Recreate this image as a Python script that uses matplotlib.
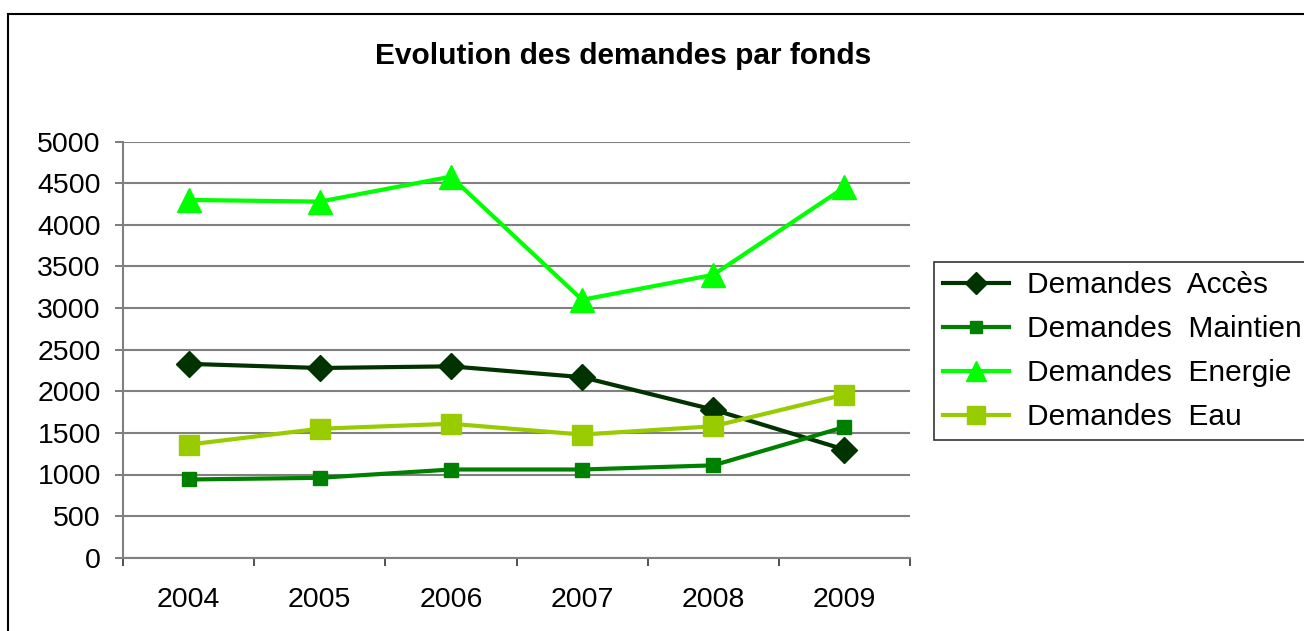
import matplotlib
matplotlib.use("Agg")
import matplotlib.pyplot as plt
from matplotlib.patches import Rectangle

plt.rcParams['font.family'] = ['Liberation Sans', 'DejaVu Sans']

years = ["2004", "2005", "2006", "2007", "2008", "2009"]
acces = [2330, 2280, 2300, 2170, 1780, 1300]
maintien = [940, 960, 1060, 1060, 1110, 1570]
energie = [4300, 4280, 4580, 3100, 3400, 4450]
eau = [1360, 1550, 1610, 1480, 1580, 1960]
series_names = ["Demandes  Accès", "Demandes  Maintien", "Demandes  Energie", "Demandes  Eau"]
y_ticks = [0, 500, 1000, 1500, 2000, 2500, 3000, 3500, 4000, 4500, 5000]

W, H = 1304, 631
fig = plt.figure(figsize=(W / 100, H / 100), dpi=100)
ax = fig.add_axes([123 / W, 1 - 557.7 / H, (910 - 123) / W, (557.7 - 141.7) / H])

x = list(range(len(years)))
ax.plot(x, acces, color="#003300", lw=3, marker="D", ms=13, mfc="#003300", mec="#003300", label=series_names[0], zorder=4)
ax.plot(x, maintien, color="#008000", lw=3, marker="s", ms=9.5, mfc="#008000", mec="#008000", label=series_names[1], zorder=4)
ax.plot(x, energie, color="#00FF00", lw=3, marker="^", ms=17, mfc="#00FF00", mec="#00FF00", label=series_names[2], zorder=4)
ax.plot(x, eau, color="#99CC00", lw=3, marker="s", ms=15, mfc="#99CC00", mec="#99CC00", label=series_names[3], zorder=4)

ax.set_xlim(-0.5, len(years) - 0.5)
ax.set_ylim(0, 5000)
ax.set_yticks(y_ticks)
ax.set_yticklabels([str(v) for v in y_ticks], fontsize=20.5)
ax.yaxis.grid(True, color="#808080", lw=1.5)
ax.set_axisbelow(True)

ax.set_xticks(x)
ax.set_xticklabels(years, fontsize=20.5)
ax.set_xticks([i - 0.5 for i in range(len(years) + 1)], minor=True)
ax.tick_params(axis="x", which="major", length=0, pad=21)
ax.tick_params(axis="x", which="minor", length=6, width=1.2, color="#333333", direction="out")
ax.tick_params(axis="y", length=6, width=1.2, color="#666666", pad=10)

for s in ["top", "right"]:
    ax.spines[s].set_visible(False)
for s in ["left", "bottom"]:
    ax.spines[s].set_color("#808080")
    ax.spines[s].set_linewidth(1.5)

fig.text(623 / W, 1 - 63.5 / H, "Evolution des demandes par fonds", ha="center", va="baseline",
         fontsize=21.5, fontweight="bold")

leg = fig.legend(loc="upper left", bbox_to_anchor=(934 / W, 1 - 262 / H), fontsize=21.5,
                 frameon=True, fancybox=False, edgecolor="black", handlelength=2.2,
                 labelspacing=0.54, borderpad=0.3, handletextpad=0.6, borderaxespad=0)
leg.get_frame().set_linewidth(1.2)
for h in leg.legend_handles:
    h.set_markersize(h.get_markersize() * 0.85)

border = Rectangle((8 / W, -0.1), 1.2, 1 - 14 / H + 0.1, transform=fig.transFigure,
                   fill=False, edgecolor="black", lw=1.5, clip_on=False)
fig.patches.append(border)

fig.savefig("out.png", dpi=100)
